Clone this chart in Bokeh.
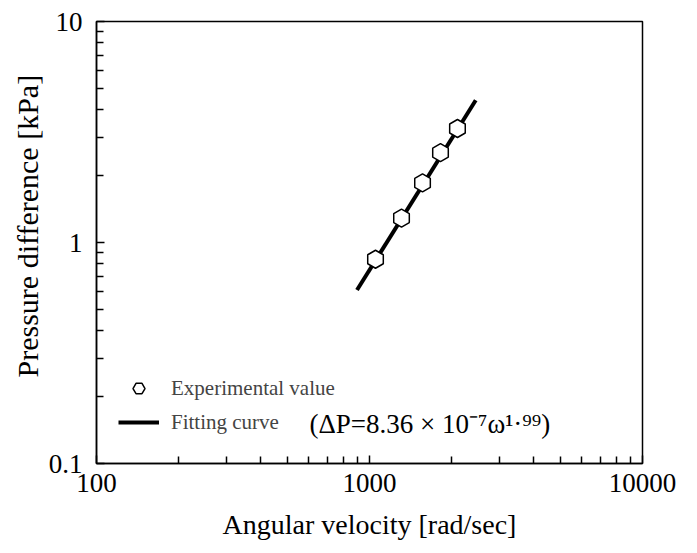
import math
from bokeh.plotting import figure
from bokeh.models import Legend, LegendItem, Label, FixedTicker, Title
from bokeh.embed import file_html
from bokeh.resources import INLINE

omega = [1052, 1310, 1564, 1820, 2100]          # rad/sec
dp = [0.84, 1.29, 1.86, 2.55, 3.28]              # kPa

# Fitting curve endpoints (power law is straight on log-log axes)
fit_omega = [900, 2450]
fit_dp = [0.61, 4.40]

x_ticks = [100, 1000, 10000]
y_ticks = [0.1, 1, 10]
x_minor = [m * d for d in (100, 1000) for m in range(2, 10)]
y_minor = [m * d for d in (0.1, 1) for m in range(2, 10)]

FONT = "Liberation Serif"

p = figure(width=690, height=545, x_axis_type="log", y_axis_type="log",
           x_range=(100, 10000), y_range=(0.1, 10),
           output_backend="svg", toolbar_location=None,
           min_border_left=96, min_border_right=48, min_border_top=21, min_border_bottom=82)

p.grid.visible = False
p.outline_line_color = "black"
p.outline_line_width = 1.5
p.background_fill_color = "white"
p.border_fill_color = "white"

fit = p.line(fit_omega, fit_dp, line_color="black", line_width=4)
pts = p.scatter(omega, dp, marker="hex", size=18, angle=math.pi / 6,
                fill_color="white", line_color="black", line_width=1.5)

p.xaxis.ticker = FixedTicker(ticks=x_ticks, minor_ticks=x_minor)
p.yaxis.ticker = FixedTicker(ticks=y_ticks, minor_ticks=y_minor)
p.xaxis.major_label_overrides = {100: "100", 1000: "1000", 10000: "10000"}
p.yaxis.major_label_overrides = {0.1: "0.1", 1: "1", 10: "10"}

for ax in (p.xaxis[0], p.yaxis[0]):
    ax.axis_line_width = 1.5
    ax.major_tick_in = 8
    ax.major_tick_out = 0
    ax.minor_tick_in = 7
    ax.minor_tick_out = 0
    ax.major_tick_line_width = 1.5
    ax.minor_tick_line_width = 1.5
    ax.major_label_text_font = FONT
    ax.major_label_text_font_size = "27px"
    ax.major_label_text_color = "black"
    ax.axis_label_text_font = FONT
    ax.axis_label_text_font_style = "normal"
    ax.axis_label_text_color = "black"

p.xaxis.axis_label = "Angular velocity [rad/sec]"
p.xaxis.axis_label_text_font_size = "28px"
p.xaxis.major_label_standoff = 10
p.xaxis.axis_label_standoff = 14
p.yaxis.major_label_standoff = 14

ytitle = Title(text="Pressure difference [kPa]", align="left", offset=86,
               text_font=FONT, text_font_size="30px", text_font_style="normal",
               text_color="black", standoff=4)
p.add_layout(ytitle, "left")

legend = Legend(items=[LegendItem(label="Experimental value", renderers=[pts]),
                       LegendItem(label="Fitting curve", renderers=[fit])],
                location=(22, 26), border_line_color=None, background_fill_alpha=0,
                padding=0, margin=0, spacing=4, glyph_width=41, glyph_height=30,
                label_height=30, label_standoff=12,
                label_text_font=FONT, label_text_font_size="21px")
p.add_layout(legend, "center")

formula = Label(x=213, y=40, x_units="screen", y_units="screen",
                text="(ΔP=8.36 × 10⁻⁷ω¹·⁹⁹)", text_font=FONT,
                text_font_size="27px", text_color="black",
                text_baseline="middle")
p.add_layout(formula)

open("out.html", "w").write(file_html(p, INLINE))
